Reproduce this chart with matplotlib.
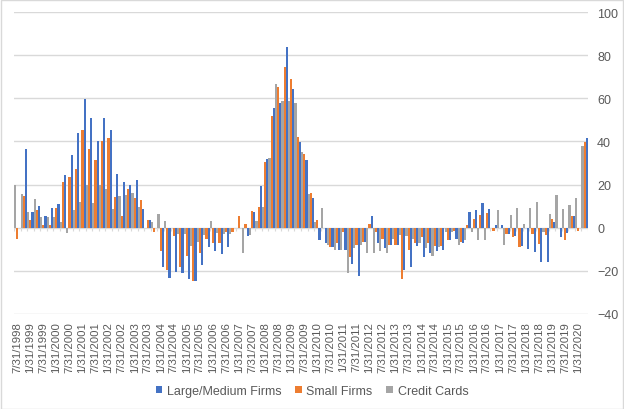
import matplotlib.pyplot as plt
import numpy as np

# quarterly survey values, 7/31/1998 .. 4/30/2020 (88 quarters)
large_medium = [0, 36.4, 7.1, 9.9, 5.3, 9.0, 10.9, 24.3, 33.6, 43.9,
                59.7, 50.9, 40.2, 50.9, 45.3, 24.8, 21.1, 19.7, 22.0, 8.5,
                3.4, 0, -18.0, -23.1, -20.3, -21.2, -24.0, -24.5, -17.1, -9.1,
                -11.0, -12.4, -9.1, 0, 0, -4.0, 7.1, 19.2, 31.8, 55.5,
                57.8, 83.9, 64.3, 39.7, 31.3, 13.6, -5.9, -7.3, -9.1, -10.5,
                -10.5, -16.6, -22.2, -6.4, 5.3, -7.3, -9.6, -7.8, -7.8, -19.4,
                -18.4, -8.7, -13.8, -11.5, -11.0, -10.5, -5.9, -5.4, -7.3, 7.1,
                8.1, 11.3, 8.5, 1.1, 1.1, -3.0, -4.0, -8.4, -9.9, -11.3,
                -15.8, -15.8, 2.5, -4.2, -2.6, 5.3, 0, 41.6]
small_firms = [-5.4, 14.6, 3.4, 8.1, 1.4, 1.4, 9.0, 21.1, 23.4, 27.1,
               45.3, 36.4, 31.3, 40.2, 41.6, 14.1, 5.3, 17.8, 13.6, 12.7,
               3.4, -2.2, -11.0, -19.4, -4.0, -18.4, -13.3, -24.5, -11.5, -5.4,
               -7.3, -7.3, -2.2, -2.2, 5.3, 1.6, 7.6, 9.5, 30.4, 51.8,
               65.3, 74.6, 69.0, 42.0, 34.1, 16.0, 3.4, 0, -9.1, -7.3,
               -2.2, -13.8, -8.2, -6.4, 1.6, -2.2, -5.0, -7.8, -7.8, -23.6,
               -10.1, -7.3, -4.5, -7.3, -8.7, -8.7, -5.9, -1.7, -6.4, 1.1,
               3.9, 5.7, 6.7, -1.7, 0, -3.0, -4.2, -8.8, 0, -2.8,
               -7.6, -3.3, 4.0, 0, -5.6, 5.3, -1.6, 39.7]
credit_cards = [20.0, 15.5, 7.1, 13.2, 4.8, 4.8, 4.8, 2.5, -2.6, 8.1,
                11.8, 19.8, 11.3, 19.8, 17.8, 8.5, 14.6, 15.0, 16.0, 9.5,
                0, 2.5, 6.2, 2.9, 0, -2.9, -2.9, -8.7, -6.8, -3.3,
                2.9, -2.6, -3.1, -3.1, 0, -11.5, -3.6, 2.9, 9.5, 32.2,
                66.7, 58.8, 58.8, 57.8, 35.0, 15.5, 2.5, 9.0, -8.2, -10.1,
                -10.1, -20.8, -9.6, -8.2, -11.9, -11.9, -11.0, -11.5, -5.4, -3.6,
                -4.0, -5.4, -7.3, -9.6, -13.3, -9.1, -2.2, -2.2, -7.8, -5.9,
                -2.2, -5.9, -5.9, 0, 8.1, -8.1, 5.7, 9.0, 1.6, 9.1,
                11.9, -2.2, 6.2, 15.2, 8.8, 10.4, 13.6, 38.1]

# tick labels every second quarter
tick_labels = []
for k in range(44):
    if k % 2 == 0:
        tick_labels.append('7/31/%d' % (1998 + k // 2))
    else:
        tick_labels.append('1/31/%d' % (1999 + k // 2))

plt.rcParams['font.family'] = ['Liberation Sans', 'DejaVu Sans']
txt = '#595959'
grid = '#d9d9d9'

fig = plt.figure(figsize=(6.24, 4.10), dpi=100)
ax = fig.add_axes([14 / 624, 1 - 315 / 410, (588 - 14) / 624, (315 - 13) / 410])

x = np.arange(len(large_medium))
w = 1 / 3
ax.bar(x + w, large_medium, w, color='#4472C4', label='Large/Medium Firms', zorder=3)
ax.bar(x, small_firms, w, color='#ED7D31', label='Small Firms', zorder=3)
ax.bar(x - w, credit_cards, w, color='#A5A5A5', label='Credit Cards', zorder=3)

ax.set_xlim(-0.5, len(x) - 0.5)
ax.set_ylim(-40, 100)
ax.set_yticks(np.arange(-40, 101, 20))
ax.yaxis.tick_right()
ax.tick_params(axis='y', length=0, pad=6.5, labelsize=9, labelcolor=txt)
ax.grid(axis='y', color=grid, lw=1, zorder=0)

ax.set_xticks(x[::2])
ax.set_xticklabels(tick_labels, rotation=90)
ax.tick_params(axis='x', length=0, pad=5, labelsize=8.2, labelcolor=txt)

# small category tick marks on the zero line
ax.vlines(np.arange(len(x) + 1) - 0.5, 0, -1.3, color=grid, lw=0.8, zorder=2)

for s in ax.spines.values():
    s.set_visible(False)

fig.legend(loc='center', bbox_to_anchor=(0.5, 1 - 392 / 410), ncol=3, frameon=False,
           fontsize=9, labelcolor=txt, handlelength=0.55, handleheight=0.55,
           handletextpad=0.35, columnspacing=1.1)

fig.patches.append(plt.Rectangle((0.001, 0.001), 0.997, 0.997, transform=fig.transFigure,
                                 fill=False, edgecolor=grid, lw=1))

fig.savefig('out.png', dpi=100)
